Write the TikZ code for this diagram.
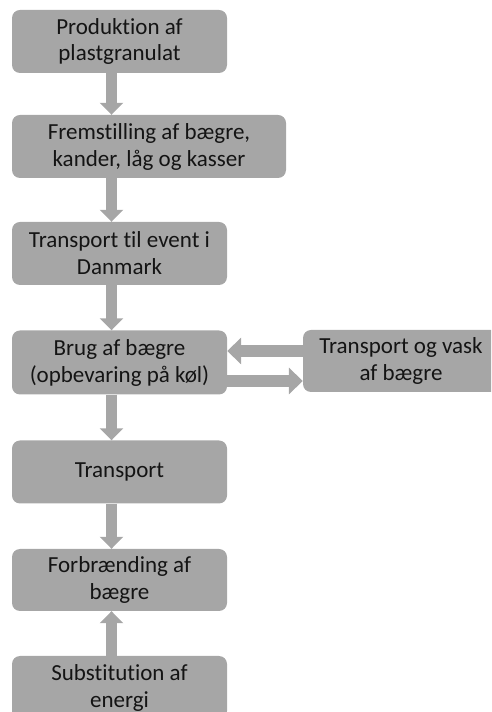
\documentclass[tikz,border=0pt]{standalone}
\usepackage{fontspec}
\setmainfont[Ligatures=NoCommon]{Carlito}
\usetikzlibrary{arrows.meta}
\definecolor{boxgray}{RGB}{166,166,166}
\definecolor{txtblk}{RGB}{20,20,20}

\begin{document}
\begin{tikzpicture}[
  x=1pt, y=1pt,
  font=\fontsize{23}{27}\selectfont,
  stage/.style={rectangle, rounded corners=8pt, fill=boxgray, text=txtblk,
                minimum width=215pt, minimum height=63pt, inner sep=0pt,
                align=center},
  flow/.style={draw=boxgray, line width=11pt,
               -{Triangle[width=23pt,length=12pt]}},
  side/.style={draw=boxgray, line width=12pt,
               -{Triangle[width=26pt,length=14pt]}},
]
\clip (0,0) rectangle (491,712);

% ============ main chain ============
\node[stage] (prod) at (119.5,670.5) {Produktion af\\plastgranulat};
\node[stage, minimum width=274pt] (make) at (149,565.5)
  {Fremstilling af bægre,\\kander, låg og kasser};
\node[stage] (ship) at (119.5,458.5) {Transport til event i\\Danmark};
\node[stage, minimum height=64pt] (use) at (119.5,349.5)
  {Brug af bægre\\(opbevaring på køl)};
\node[stage] (trans) at (119.5,240) {Transport};
\node[stage, minimum height=62pt] (burn) at (119.5,132)
  {Forbrænding af\\bægre};
\node[stage] (subst) at (119.5,24.5) {Substitution af\\energi};

% ============ washing loop ============
\node[stage, minimum width=196pt, minimum height=62pt] (wash) at (401,351)
  {Transport og vask\\af bægre};

% arrows sit a bit left of the box centres
\coordinate (spine) at (111.5,0);
\coordinate (back) at (0,361);
\coordinate (out) at (0,331);

\draw[flow] (prod.south -| spine) -- (make.north -| spine);
\draw[flow] (make.south -| spine) -- (ship.north -| spine);
\draw[flow] (ship.south -| spine) -- (use.north -| spine);
\draw[flow] (use.south -| spine) -- (trans.north -| spine);
\draw[flow] (trans.south -| spine) -- (burn.north -| spine);
% energy substitution points upwards
\draw[flow] (subst.north -| spine) -- (burn.south -| spine);

\draw[side] (wash.west |- back) -- (use.east |- back);
\draw[side] (use.east |- out) -- (wash.west |- out);

\end{tikzpicture}
\end{document}
